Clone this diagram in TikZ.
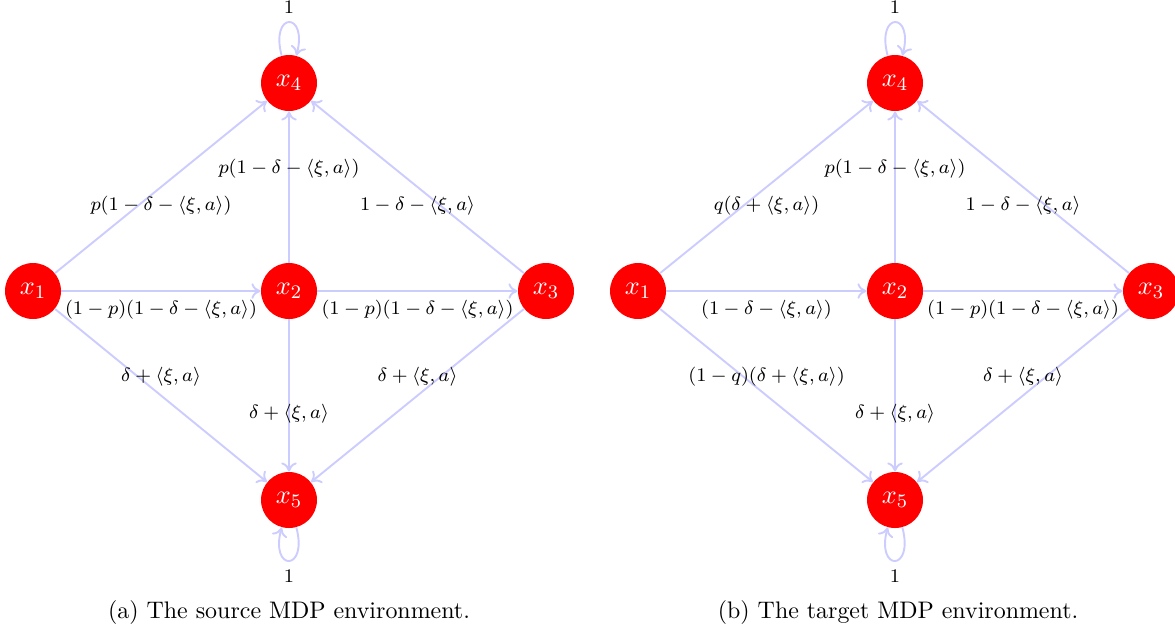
\documentclass[tikz,border=0pt]{standalone}
\usetikzlibrary{arrows.meta}
\tikzset{
  st/.style={circle, fill=red, draw=none, minimum size=23.4pt, inner sep=0pt,
    text=white, font=\fontsize{11}{13}\selectfont},
  tr/.style={draw=blue!20, line width=0.8pt, -{To[length=3.8pt,width=6.5pt]}},
  lb/.style={font=\fontsize{8.3}{10}\selectfont, text=black},
  captext/.style={font=\fontsize{10}{12}\selectfont, text=black}
}
\begin{document}
\begin{tikzpicture}[x=0.418pt,y=-0.418pt]
\useasboundingbox (0,0) rectangle (1175,633);
% left diagram
\node[st] (a1) at (33,291) {$x_1$};
\node[st] (a2) at (289,291) {$x_2$};
\node[st] (a3) at (546,291) {$x_3$};
\node[st] (a4) at (289,83) {$x_4$};
\node[st] (a5) at (289,500) {$x_5$};
\draw[tr] (a1) -- node[lb,below]{$p(1-\delta-\langle\xi,a\rangle)$} (a4);
\draw[tr] (a1) -- node[lb,below]{$(1-p)(1-\delta-\langle\xi,a\rangle)$} (a2);
\draw[tr] (a2) -- node[lb,above]{$p(1-\delta-\langle\xi,a\rangle)$} (a4);
\draw[tr] (a2) -- node[lb,below]{$(1-p)(1-\delta-\langle\xi,a\rangle)$} (a3);
\draw[tr] (a3) -- node[lb,below]{$1-\delta-\langle\xi,a\rangle$} (a4);
\draw[tr] (a1) -- node[lb,above]{$\delta+\langle\xi,a\rangle$} (a5);
\draw[tr] (a2) -- node[lb,below]{$\delta+\langle\xi,a\rangle$} (a5);
\draw[tr] (a3) -- node[lb,above]{$\delta+\langle\xi,a\rangle$} (a5);
\draw[tr] (a4) to[loop above] node[lb,above]{$1$} (a4);
\draw[tr] (a5) to[loop below] node[lb,below]{$1$} (a5);
\node[captext] (ca) at (289,612) {(a) The source MDP environment.};
% right diagram
\node[st] (b1) at (638,291) {$x_1$};
\node[st] (b2) at (895,291) {$x_2$};
\node[st] (b3) at (1151,291) {$x_3$};
\node[st] (b4) at (895,83) {$x_4$};
\node[st] (b5) at (895,500) {$x_5$};
\draw[tr] (b1) -- node[lb,below]{$q(\delta+\langle\xi,a\rangle)$} (b4);
\draw[tr] (b1) -- node[lb,below]{$(1-\delta-\langle\xi,a\rangle)$} (b2);
\draw[tr] (b2) -- node[lb,above]{$p(1-\delta-\langle\xi,a\rangle)$} (b4);
\draw[tr] (b2) -- node[lb,below]{$(1-p)(1-\delta-\langle\xi,a\rangle)$} (b3);
\draw[tr] (b3) -- node[lb,below]{$1-\delta-\langle\xi,a\rangle$} (b4);
\draw[tr] (b1) -- node[lb,above]{$(1-q)(\delta+\langle\xi,a\rangle)$} (b5);
\draw[tr] (b2) -- node[lb,below]{$\delta+\langle\xi,a\rangle$} (b5);
\draw[tr] (b3) -- node[lb,above]{$\delta+\langle\xi,a\rangle$} (b5);
\draw[tr] (b4) to[loop above] node[lb,above]{$1$} (b4);
\draw[tr] (b5) to[loop below] node[lb,below]{$1$} (b5);
\node[captext] (cb) at (898,612) {(b) The target MDP environment.};
\end{tikzpicture}
\end{document}
